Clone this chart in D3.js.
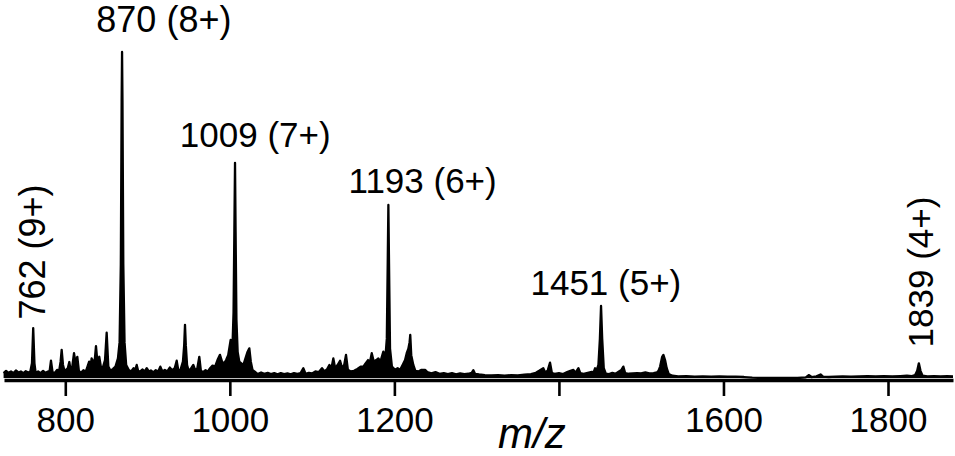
<!DOCTYPE html>
<html>
<head>
<meta charset="utf-8">
<script src="https://cdn.jsdelivr.net/npm/d3@7"></script>
<style>
  html, body { margin: 0; padding: 0; background: #fff; }
  svg { display: block; }
  text { font-family: "Liberation Sans", Arial, sans-serif; fill: #000; }
</style>
</head>
<body>
<div class="canvas"></div>
<script>
/////////////////////////////////////////////////
// Data
/////////////////////////////////////////////////

// Spectrum trace: [m/z, relative intensity %]
const spectrum = [
  [725, 1.5], [728, 2.2], [731, 1.6], [734, 2.0], [737, 1.5], [740, 2.3], [743, 1.7], [746, 2.0],
  [749, 1.5], [752, 2.1], [755, 1.7], [757.5, 2.0],
  [759.5, 4.5], [761, 15.3], [762.5, 4.5], [764, 1.5],
  [767, 2.0], [770, 1.5], [773, 2.2], [776, 1.6], [779, 2.0],
  [781, 2.2], [782.6, 5.3], [784.5, 1.8],
  [787, 1.5], [790, 2.5], [792.5, 2.2], [794.3, 5], [795.6, 8.6], [797.2, 4], [799, 2.2],
  [801, 2.5], [803, 3], [804.9, 4.9], [806.5, 2.2], [808.5, 3.5], [810.6, 7.6], [812.5, 4.5],
  [814.6, 6.5], [816.5, 2.2],
  [819, 1.6], [822, 2.4], [825, 2.0], [827, 3.5], [829, 5], [831, 4], [832, 6.0], [834, 4.5],
  [836, 6], [837.3, 9.8], [839, 5], [841.3, 6.5], [843.5, 3], [846, 3.5], [848.3, 5.5],
  [850.3, 13.9], [852.3, 3.5], [855, 2.2], [858, 2.8], [861, 3.5],
  [864, 6], [866, 11], [867.5, 35], [868.5, 85], [869, 100], [869.5, 85], [870.5, 35], [872, 11], [874, 4],
  [877, 2.5], [880, 2.0], [883, 3], [885, 2.5], [886.8, 4.0], [888.5, 2.2], [891, 2.0], [894, 2.6],
  [896.5, 2.0], [899, 3.0], [901.5, 2.0], [904, 2.3], [907, 1.7], [910, 2.4], [913, 2.0],
  [915.5, 3.5], [918, 2.0],
  [921, 2.5], [924, 2.0], [927, 3.2], [930, 2.4], [933, 3], [935.4, 5.3], [937.5, 2.2], [940, 2.5],
  [943, 5], [944.5, 10], [945.5, 16.3], [946.5, 10], [948, 4], [950, 2.2],
  [952.5, 2.8], [955.6, 4.0], [958, 2.3], [960.5, 3], [962.9, 6.5], [964.8, 2.2], [967.5, 1.8],
  [970.5, 2.4], [973.5, 2.0], [976, 3], [979, 3.8], [982, 3.5], [985, 5.5], [988, 7.1],
  [990.5, 5], [993, 4.5], [995.5, 5.5], [998, 7], [1001, 11.7], [1003, 8],
  [1004.5, 20], [1005.5, 45], [1006.3, 66], [1007, 45], [1008, 18], [1009.5, 8], [1011.5, 5],
  [1014, 4.5], [1016.5, 4], [1019, 6], [1021.5, 8], [1023.7, 9.1], [1025.5, 5], [1027.5, 2.5],
  [1031, 1.8], [1034, 1.2], [1038, 1.7], [1042, 1.3], [1046, 1.6], [1050, 1.2], [1054, 1.5],
  [1058, 1.1], [1062, 1.5], [1066, 1.2], [1070, 1.4], [1074, 1.1], [1078, 1.5], [1082, 1.3],
  [1086, 1.5], [1089.3, 3.0], [1092, 1.3], [1096, 1.6], [1100, 1.4], [1104, 2.0],
  [1108, 1.8], [1112, 3.0], [1115, 2.0], [1118, 2.6], [1121, 4], [1123.5, 3], [1125.8, 6.0],
  [1128, 3], [1131, 4], [1134, 5.3], [1136.5, 3], [1139, 4], [1141.2, 7.1], [1143.5, 2.5],
  [1147, 2], [1151, 2.2], [1155, 2.8], [1159, 3.5], [1162.3, 3.5], [1165, 4.5], [1168, 5.5],
  [1170, 4.5], [1172.5, 7.6], [1175, 5], [1178, 5.5], [1180.5, 6.0], [1183, 5], [1186.6, 8.1], [1189, 6],
  [1190.8, 12], [1191.9, 35], [1192.7, 53.1], [1193.5, 35], [1194.7, 9],
  [1197, 3.5], [1200.8, 2.5], [1204, 3], [1207, 2.5], [1210, 4], [1213, 5.5], [1215, 7.6],
  [1217, 9], [1218.5, 11], [1219.3, 13.2], [1220.5, 7], [1223, 4], [1225.5, 2.2], [1229, 2], [1233, 2.5],
  [1237.3, 2.5], [1240, 1.8], [1245, 1.4], [1250, 1.8], [1255, 1.3], [1260, 1.5], [1265, 1.2],
  [1270, 1.5], [1275, 1.1], [1280, 1.4], [1285, 1.2], [1290, 1.3], [1294, 1.6], [1296, 2.4], [1298, 1.3],
  [1303, 1.1], [1310, 0.9], [1318, 0.8], [1326, 0.9], [1334, 0.7], [1342, 0.9], [1350, 0.8],
  [1358, 1.0], [1366, 1.2], [1372, 1.6], [1376, 2.2], [1378.5, 2.6], [1381, 3.0], [1383.5, 1.6],
  [1386.5, 2.4], [1389.2, 4.7], [1391.5, 1.5], [1395, 1.3], [1400, 1.5], [1405, 1.2], [1410, 1.8],
  [1414, 2.2], [1417.6, 2.5], [1420, 1.6], [1423.7, 3.0], [1426, 1.5], [1430, 1.3], [1435, 1.6],
  [1440, 1.9], [1442, 1.6], [1444, 3.0], [1446, 2.4],
  [1448, 4], [1449.8, 12], [1451.2, 22.1], [1452.6, 12], [1454.5, 3], [1457, 1.3],
  [1461, 1.2], [1465, 1.6], [1469, 1.3], [1473, 2], [1476, 2.5], [1478.3, 3.5], [1480.5, 1.5],
  [1485, 1.3], [1490, 1.4], [1495, 1.5], [1500, 1.4], [1505, 1.7], [1510, 1.4], [1515, 1.5], [1519, 1.7],
  [1521, 2.2], [1523, 3.5], [1525.5, 6.5], [1527, 7.1], [1529, 5.5], [1531, 3], [1533.5, 1.2],
  [1538, 0.7], [1545, 0.5], [1555, 0.6], [1565, 0.4], [1575, 0.5], [1585, 0.4], [1595, 0.5],
  [1605, 0.4], [1615, 0.4], [1625, 0.3], [1635, 0.1], [1650, 0], [1670, 0], [1690, 0],
  [1700, 0.2], [1704, 0.9], [1707, 0.3], [1713, 0.5], [1718, 1.1], [1721, 0.4], [1728, 0.3],
  [1736, 0.4], [1745, 0.5], [1755, 0.4], [1765, 0.5], [1775, 0.6], [1785, 0.5], [1795, 0.6],
  [1805, 0.5], [1815, 0.6], [1823, 0.7], [1829, 0.6], [1833, 0.9],
  [1835.5, 2.2], [1837.5, 4.5], [1839.5, 2.2], [1842, 0.7], [1848, 0.5], [1856, 0.6],
  [1864, 0.5], [1872, 0.6], [1879, 0.5],
];

// Annotated charge states
const peakMz = [762, 870, 1009, 1193, 1451, 1839];
const peakCharge = [9, 8, 7, 6, 5, 4];

// Axis
const tickValues = [800, 1000, 1200, 1400, 1600, 1800];
const xDomain = [725.5, 1879];
const xTitle = "m/z";

/////////////////////////////////////////////////
// Setup
/////////////////////////////////////////////////

const width = 955;
const height = 456;
const axisY = 380;

const x = d3.scaleLinear().domain(xDomain).range([4, 953]);
const y = d3.scaleLinear().domain([0, 100]).range([378, 52]);

const svg = d3
  .select(".canvas")
  .append("svg")
  .attr("width", width)
  .attr("height", height);

// Spectrum: filled trace + outline
const area = d3
  .area()
  .x((d) => x(d[0]))
  .y0(y(0))
  .y1((d) => y(d[1]));

const line = d3
  .line()
  .x((d) => x(d[0]))
  .y((d) => y(d[1]));

svg.append("path").datum(spectrum).attr("d", area).attr("fill", "#000");

svg
  .append("path")
  .datum(spectrum)
  .attr("d", line)
  .attr("fill", "none")
  .attr("stroke", "#000")
  .attr("stroke-width", 2.3)
  .attr("stroke-linejoin", "round");

// x axis (1400 has no label, the axis title sits under it)
const xAxis = d3
  .axisBottom(x)
  .tickValues(tickValues)
  .tickSizeInner(16)
  .tickSizeOuter(0)
  .tickPadding(11)
  .tickFormat((d) => (d === 1400 ? "" : d));

const axisGroup = svg
  .append("g")
  .attr("transform", `translate(0, ${axisY})`)
  .call(xAxis);

axisGroup.select(".domain").attr("stroke", "#000").attr("stroke-width", 3.5);
axisGroup.selectAll(".tick line").attr("stroke", "#000").attr("stroke-width", 2.6);
axisGroup
  .selectAll(".tick text")
  .attr("font-family", '"Liberation Sans", Arial, sans-serif')
  .attr("font-size", 35)
  .attr("fill", "#000");

svg
  .append("text")
  .attr("x", x(1400) - 27)
  .attr("y", 448)
  .attr("text-anchor", "middle")
  .attr("font-size", 42)
  .attr("font-style", "italic")
  .text(xTitle);

// Peak labels: offsets from the peak position
const labelLayout = [
  { dx: 11, y: 252, size: 36, rotate: true },
  { dx: 41, y: 32, size: 36 },
  { dx: 18, y: 147, size: 35 },
  { dx: 34, y: 193, size: 35 },
  { dx: 5, y: 295, size: 35 },
  { dx: 13, y: 272, size: 35, rotate: true },
];

peakMz.forEach((mz, i) => {
  const lay = labelLayout[i];
  const label = `${mz} (${peakCharge[i]}+)`;
  const px = x(mz) + lay.dx;
  const t = svg
    .append("text")
    .attr("font-size", lay.size)
    .attr("text-anchor", "middle")
    .text(label);
  if (lay.rotate) {
    t.attr("transform", `translate(${px}, ${lay.y}) rotate(-90)`);
  } else {
    t.attr("x", px).attr("y", lay.y);
  }
});
</script>
</body>
</html>
